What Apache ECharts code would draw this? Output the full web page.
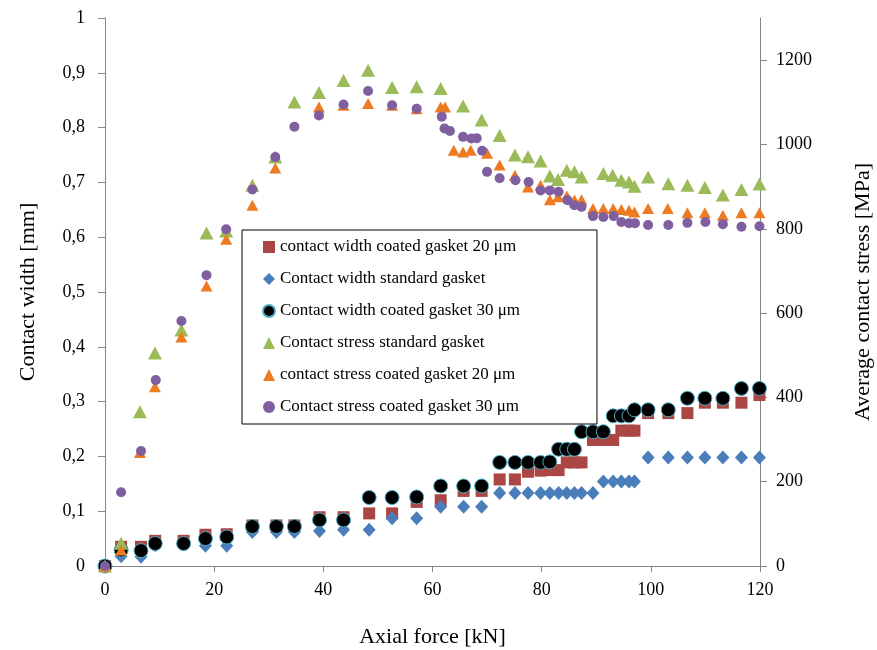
<!DOCTYPE html>
<html lang="en">
<head>
    <meta charset="UTF-8">
    <title>Contact width and contact stress</title>
    <style>
        html, body { margin: 0; padding: 0; background: #fff; }
        .chart { width: 877px; height: 650px; }
    </style>
    <script src="https://cdn.jsdelivr.net/npm/echarts@6/dist/echarts.min.js"></script>
</head>
<body>
<div class="chart"></div>
<script>
    // contact width [mm]
    var forceW = [0, 2.95, 6.6, 9.2, 14.4, 18.4, 22.3, 27.0, 31.4, 34.7, 39.3, 43.7, 48.4, 52.6, 57.1, 61.5, 65.7, 69.0,
        72.3, 75.1, 77.5, 79.8, 81.5, 83.1, 84.6, 86.0, 87.3, 89.4, 91.3, 93.1, 94.6, 96.0, 97.0, 99.5, 103.2, 106.7,
        109.9, 113.2, 116.6, 119.9];
    var width20 = [0, 0.035, 0.035, 0.046, 0.046, 0.057, 0.058, 0.074, 0.074, 0.074, 0.089, 0.089, 0.096, 0.096, 0.117,
        0.120, 0.137, 0.137, 0.158, 0.158, 0.172, 0.174, 0.175, 0.175, 0.189, 0.189, 0.189, 0.23, 0.23, 0.23, 0.247,
        0.247, 0.247, 0.279, 0.279, 0.279, 0.298, 0.298, 0.298, 0.312];
    var widthStd = [0, 0.018, 0.017, 0.038, 0.04, 0.037, 0.037, 0.062, 0.062, 0.062, 0.064, 0.066, 0.066, 0.087, 0.087,
        0.108, 0.108, 0.108, 0.133, 0.133, 0.133, 0.133, 0.133, 0.133, 0.133, 0.133, 0.133, 0.133, 0.154, 0.154, 0.154,
        0.154, 0.154, 0.198, 0.198, 0.198, 0.198, 0.198, 0.198, 0.198];
    var width30 = [0, 0.029, 0.028, 0.041, 0.041, 0.050, 0.053, 0.072, 0.072, 0.072, 0.084, 0.084, 0.125, 0.125, 0.126,
        0.146, 0.146, 0.146, 0.189, 0.189, 0.189, 0.189, 0.19, 0.213, 0.213, 0.213, 0.245, 0.245, 0.245, 0.274, 0.274,
        0.274, 0.285, 0.285, 0.285, 0.306, 0.306, 0.306, 0.324, 0.324];

    // average contact stress [MPa]
    var forceStd = [0, 2.95, 6.4, 9.15, 14.0, 18.6, 22.2, 27.0, 31.2, 34.7, 39.2, 43.7, 48.2, 52.6, 57.1, 61.5, 65.6,
        69.0, 72.3, 75.1, 77.5, 79.8, 81.5, 83.0, 84.6, 86.0, 87.3, 91.3, 93.0, 94.6, 96.0, 97.0, 99.5, 103.2, 106.7,
        109.9, 113.2, 116.6, 119.9];
    var stressStd = [0, 54, 366, 505, 560, 790, 795, 903, 970, 1101, 1123, 1152, 1176, 1135, 1137, 1133, 1091, 1058,
        1021, 975, 971, 961, 925, 917, 939, 935, 923, 931, 927, 915, 911, 901, 923, 907, 903, 898, 880, 893, 906];
    var force20 = [0, 2.95, 6.4, 9.15, 14.0, 18.6, 22.2, 27.0, 31.2, 39.2, 43.7, 48.2, 52.6, 57.1, 61.5, 62.3, 63.9,
        65.6, 67.0, 70.0, 72.3, 75.1, 77.5, 79.8, 81.5, 83.0, 84.6, 86.0, 87.3, 89.4, 91.3, 93.1, 94.6, 96.0, 97.0,
        99.5, 103.1, 106.7, 109.9, 113.2, 116.6, 119.9];
    var stress20 = [0, 38, 269, 425, 543, 664, 775, 856, 944, 1089, 1093, 1097, 1093, 1085, 1089, 1089, 986, 982, 986,
        979, 951, 927, 899, 903, 869, 876, 878, 868, 869, 848, 848, 848, 846, 844, 840, 848, 848, 838, 838, 832, 838,
        838];
    var force30 = [0, 2.95, 6.6, 9.3, 14.0, 18.6, 22.2, 27.0, 31.2, 34.7, 39.2, 43.7, 48.2, 52.6, 57.1, 61.7, 62.2,
        63.2, 65.6, 67.1, 68.1, 69.1, 70.0, 72.3, 75.2, 77.6, 79.8, 81.5, 83.1, 84.7, 86.0, 87.3, 89.4, 91.3, 93.2,
        94.6, 96.0, 97.1, 99.5, 103.2, 106.7, 110.0, 113.2, 116.6, 119.9];
    var stress30 = [0, 175, 273, 441, 581, 690, 799, 893, 970, 1042, 1069, 1095, 1127, 1093, 1085, 1066, 1038, 1032,
        1018, 1014, 1015, 985, 935, 920, 915, 911, 891, 891, 888, 868, 856, 852, 830, 828, 830, 816, 813, 813, 809,
        809, 814, 816, 811, 805, 806];

    function pairs(xs, ys) {
        var out = [];
        for (var i = 0; i < xs.length; i++) {
            out.push([xs[i], ys[i]]);
        }
        return out;
    }

    var font = '"Liberation Serif", "Times New Roman", serif';
    var axisColor = '#868686';

    var chart = echarts.init(document.getElementsByClassName('chart')[0]);
    var option = {
        animation: false,
        textStyle: { fontFamily: font, color: '#000' },
        grid: { left: 105, right: 117, top: 18, bottom: 84, containLabel: false, outerBoundsMode: 'none' },
        legend: {
            orient: 'vertical',
            left: 242,
            top: 230,
            padding: [7, 77, 7, 20],
            itemGap: 12,
            itemWidth: 12,
            itemHeight: 12,
            backgroundColor: '#fff',
            borderColor: '#000',
            borderWidth: 1,
            textStyle: { fontFamily: font, fontSize: 17, color: '#000', lineHeight: 20 },
            data: ['contact width coated gasket 20 μm', 'Contact width standard gasket',
                'Contact width coated gasket 30 μm', 'Contact stress standard gasket',
                'contact stress coated gasket 20 μm', 'Contact stress coated gasket 30 μm']
        },
        xAxis: {
            type: 'value',
            min: 0,
            max: 120,
            interval: 20,
            name: 'Axial force [kN]',
            nameLocation: 'middle',
            nameGap: 60,
            nameTextStyle: { fontFamily: font, fontSize: 22, color: '#000' },
            axisLine: { lineStyle: { color: axisColor } },
            axisTick: { show: true, length: 6, lineStyle: { color: axisColor } },
            axisLabel: { fontFamily: font, fontSize: 18, color: '#000', margin: 15 },
            splitLine: { show: false }
        },
        yAxis: [
            {
                type: 'value',
                min: 0,
                max: 1,
                interval: 0.1,
                name: 'Contact width [mm]',
                nameLocation: 'middle',
                nameRotate: 90,
                nameGap: 66,
                nameTextStyle: { fontFamily: font, fontSize: 22, color: '#000' },
                axisLine: { show: true, lineStyle: { color: axisColor } },
                axisTick: { show: true, length: 7, lineStyle: { color: axisColor } },
                axisLabel: {
                    fontFamily: font, fontSize: 18, color: '#000', margin: 20,
                    formatter: function (v) { return String(Math.round(v * 10) / 10).replace('.', ','); }
                },
                splitLine: { show: false }
            },
            {
                type: 'value',
                min: 0,
                max: 1300,
                interval: 200,
                position: 'right',
                name: 'Average contact stress [MPa]',
                nameLocation: 'middle',
                nameRotate: 90,
                nameGap: 92,
                nameTextStyle: { fontFamily: font, fontSize: 22, color: '#000' },
                axisLine: { show: true, lineStyle: { color: axisColor } },
                axisTick: { show: true, length: 7, lineStyle: { color: axisColor } },
                axisLabel: {
                    fontFamily: font, fontSize: 18, color: '#000', margin: 16, showMaxLabel: false,
                    formatter: function (v) { return String(v); }
                },
                splitLine: { show: false }
            }
        ],
        series: [
            {
                name: 'contact width coated gasket 20 μm',
                type: 'scatter',
                yAxisIndex: 0,
                symbol: 'rect',
                symbolSize: 12,
                itemStyle: { color: '#AA4643', opacity: 1 },
                data: pairs(forceW, width20)
            },
            {
                name: 'Contact width standard gasket',
                type: 'scatter',
                yAxisIndex: 0,
                symbol: 'diamond',
                symbolSize: [13, 14],
                itemStyle: { color: '#4A7EBB', opacity: 1 },
                data: pairs(forceW, widthStd)
            },
            {
                name: 'Contact width coated gasket 30 μm',
                type: 'scatter',
                yAxisIndex: 0,
                symbol: 'circle',
                symbolSize: 14,
                itemStyle: { color: '#000', borderColor: '#4BACC6', borderWidth: 1, opacity: 1 },
                data: pairs(forceW, width30)
            },
            {
                name: 'Contact stress standard gasket',
                type: 'scatter',
                yAxisIndex: 1,
                symbol: 'triangle',
                symbolSize: [14, 13],
                itemStyle: { color: '#9BBB59', opacity: 1 },
                data: pairs(forceStd, stressStd)
            },
            {
                name: 'contact stress coated gasket 20 μm',
                type: 'scatter',
                yAxisIndex: 1,
                symbol: 'triangle',
                symbolSize: [12, 11],
                itemStyle: { color: '#EE7B22', opacity: 1 },
                data: pairs(force20, stress20)
            },
            {
                name: 'Contact stress coated gasket 30 μm',
                type: 'scatter',
                yAxisIndex: 1,
                symbol: 'circle',
                symbolSize: 10,
                itemStyle: { color: '#7F5FA0', opacity: 1 },
                data: pairs(force30, stress30)
            }
        ]
    };
    chart.setOption(option);
</script>
</body>
</html>
